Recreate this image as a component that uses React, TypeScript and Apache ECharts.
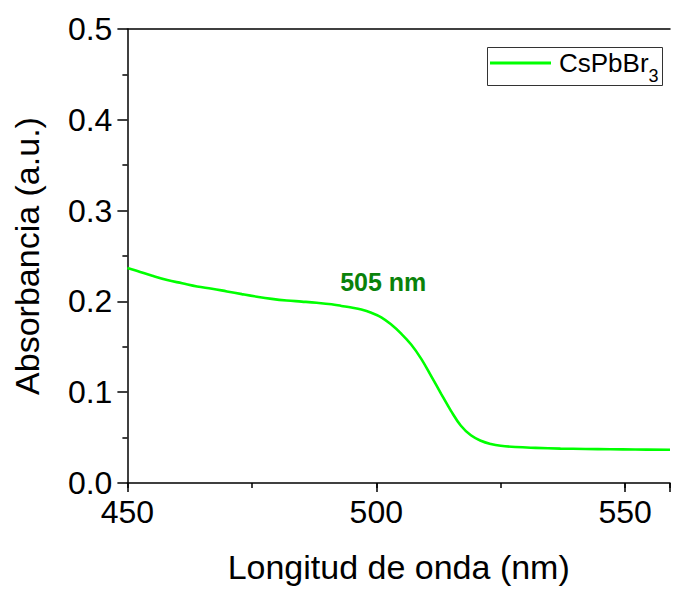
import React, { useEffect, useRef } from "react";
import * as echarts from "echarts";

const wavelengths = [
  450, 452, 455, 458, 461, 464, 467, 470, 473, 476, 479, 482, 485, 488, 491, 493, 495, 497, 499, 501,
  503, 505, 507, 509, 511, 513, 515, 517, 519, 521, 523, 525, 528, 532, 537, 542, 547, 552, 559,
];
const absorbance = [
  0.2369, 0.2335, 0.2282, 0.2235, 0.22, 0.2165, 0.214, 0.211, 0.208, 0.2052, 0.2028, 0.201, 0.1998,
  0.1985, 0.1968, 0.195, 0.1932, 0.191, 0.1875, 0.1825, 0.1745, 0.1645, 0.1525, 0.137, 0.118, 0.0985,
  0.0795, 0.063, 0.0525, 0.0465, 0.043, 0.041, 0.0396, 0.0387, 0.0379, 0.0375, 0.0371, 0.0369, 0.0366,
];
const seriesName = "CsPbBr3";
const xTicks = [450, 500, 550];
const yTicks = [0.0, 0.1, 0.2, 0.3, 0.4, 0.5];
const annotationText = "505 nm";
const annotationAt = [501.4, 0.2214];

const FONT = "'Liberation Sans', Arial, Helvetica, sans-serif";
const GREEN = "#00ff00";

export default function App() {
  const ref = useRef<HTMLDivElement>(null);
  useEffect(() => {
    document.body.style.margin = "0";
    if (!ref.current) return;
    const chart = echarts.init(ref.current, null, { renderer: "svg" });
    const xMin = xTicks[0];
    const xMax = wavelengths[wavelengths.length - 1];
    const axisColor = "#000";
    chart.setOption({
      animation: false,
      backgroundColor: "#fff",
      textStyle: { fontFamily: FONT },
      grid: { left: 127.4, right: 0, top: 29, bottom: 102, containLabel: false },
      legend: {
        left: 490,
        top: 41,
        padding: 0,
        itemWidth: 61,
        itemHeight: 3,
        data: [{ name: seriesName, icon: "rect", itemStyle: { color: GREEN } }],
        formatter: () => "{a|CsPbBr}{b|3}",
        textStyle: {
          padding: [0, 0, 0, 3],
          rich: {
            a: { fontSize: 26, lineHeight: 26, color: "#000", fontFamily: FONT },
            b: { fontSize: 18, lineHeight: 18, padding: [26, 0, 0, 0], color: "#000", fontFamily: FONT },
          },
        },
      },
      graphic: [
        {
          type: "rect",
          shape: { x: 487.5, y: 47.5, width: 175, height: 38 },
          style: { fill: "none", stroke: "#333", lineWidth: 1 },
          silent: true,
        },
      ],
      xAxis: [
        {
          type: "value",
          min: xMin,
          max: xMax,
          interval: 50,
          position: "bottom",
          name: "Longitud de onda (nm)",
          nameLocation: "middle",
          nameGap: 67,
          nameTextStyle: { fontSize: 34, color: "#000", fontFamily: FONT },
          axisLine: { show: true, lineStyle: { color: axisColor, width: 1.5 } },
          axisTick: { show: true, inside: false, length: 9, lineStyle: { color: axisColor, width: 1.5 } },
          axisLabel: {
            fontSize: 32,
            color: "#000",
            margin: 13,
            fontFamily: FONT,
            formatter: (v: number) => (xTicks.includes(v) ? String(v) : ""),
          },
          splitLine: { show: false },
        },
        {
          type: "value",
          min: xMin,
          max: xMax,
          position: "top",
          axisLine: { show: true, onZero: false, lineStyle: { color: axisColor, width: 1.5 } },
          axisTick: { show: false },
          axisLabel: { show: false },
          splitLine: { show: false },
        },
        {
          type: "value",
          min: xMin,
          max: xMax,
          interval: 25,
          position: "bottom",
          offset: 0,
          axisLine: { show: false },
          axisTick: { show: true, inside: false, length: 5, lineStyle: { color: axisColor, width: 1.5 } },
          axisLabel: { show: false },
          splitLine: { show: false },
        },
      ],
      yAxis: {
        type: "value",
        min: yTicks[0],
        max: yTicks[yTicks.length - 1],
        interval: 0.1,
        name: "Absorbancia (a.u.)",
        nameLocation: "middle",
        nameGap: 83,
        nameTextStyle: { fontSize: 34, color: "#000", fontFamily: FONT },
        axisLine: { show: true, onZero: false, lineStyle: { color: axisColor, width: 1.5 } },
        axisTick: { show: true, inside: false, length: 10, lineStyle: { color: axisColor, width: 1.5 } },
        minorTick: { show: true, splitNumber: 2, length: 5, lineStyle: { color: axisColor, width: 1.5 } },
        axisLabel: {
          fontSize: 32,
          color: "#000",
          margin: 15,
          fontFamily: FONT,
          formatter: (v: number) => v.toFixed(1),
        },
        splitLine: { show: false },
        minorSplitLine: { show: false },
      },
      series: [
        {
          name: seriesName,
          type: "line",
          xAxisIndex: 0,
          data: wavelengths.map((w, i) => [w, absorbance[i]]),
          smooth: 0.4,
          symbol: "none",
          showSymbol: false,
          lineStyle: { color: GREEN, width: 2.6 },
          itemStyle: { color: GREEN },
          markPoint: {
            symbol: "circle",
            symbolSize: 1,
            itemStyle: { color: "rgba(0,0,0,0)" },
            label: {
              show: true,
              position: "inside",
              formatter: annotationText,
              fontSize: 25,
              fontWeight: "bold",
              color: "#0a820a",
              fontFamily: FONT,
            },
            data: [{ coord: annotationAt }],
          },
        },
      ],
    });
    return () => chart.dispose();
  }, []);
  return <div ref={ref} style={{ width: 673, height: 589 }} />;
}
